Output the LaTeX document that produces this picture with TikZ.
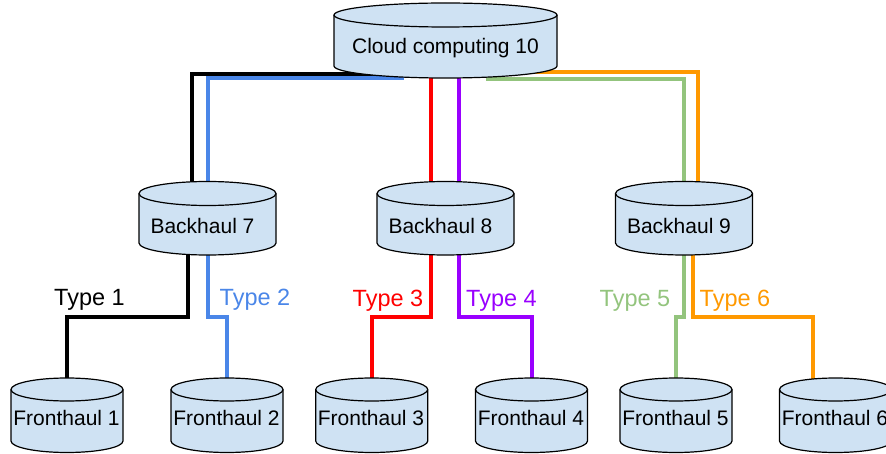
\documentclass[tikz,border=0pt]{standalone}
\usepackage{fontspec}
\setmainfont{Liberation Sans}
\usetikzlibrary{calc}

\pgfdeclarelayer{wires}
\pgfsetlayers{wires,main}

\definecolor{drumblue}{HTML}{CFE2F3}
\definecolor{linkblue}{HTML}{4A86E8}
\definecolor{linkred}{HTML}{FF0000}
\definecolor{linkpurple}{HTML}{9900FF}
\definecolor{linkgreen}{HTML}{93C47D}
\definecolor{linkorange}{HTML}{FF9900}

\tikzset{
  drumbox/.style={rectangle, draw=none, inner sep=0pt, outer sep=0pt},
  drumbody/.style={fill=drumblue, draw=black, line width=1.2pt},
  drumtext/.style={anchor=base, inner sep=0pt, font=\fontsize{21}{25}\selectfont},
  tag/.style={anchor=base west, inner sep=0pt, font=\fontsize{23.5}{28}\selectfont},
  wire/.style={line width=4pt, line join=miter, line cap=butt},
}

% \drum{name}{centre x}{top y}{width}{height}{cap radius}
\newcommand\drum[6]{%
  \node[drumbox, minimum width=#4pt, minimum height=#5pt] (#1) at ({#2},{#3+#5/2}) {};
  \filldraw[drumbody] ([yshift=-#6pt]#1.north west) -- ([yshift=#6pt]#1.south west)
    arc[start angle=180, end angle=360, x radius=#4pt/2, y radius=#6pt]
    -- ([yshift=-#6pt]#1.north east)
    arc[start angle=0, end angle=180, x radius=#4pt/2, y radius=#6pt] -- cycle;
  \draw[drumbody, fill=none] ([yshift=-#6pt]#1.north west)
    arc[start angle=180, end angle=360, x radius=#4pt/2, y radius=#6pt];
}

\begin{document}
\begin{tikzpicture}[x=1pt, y=-1pt]
\useasboundingbox (0,0) rectangle (886,454);

% storage tiers
\drum{cloud}{445.5}{3}{223}{75}{12}
\drum{b7}{207.5}{181.5}{137}{73.5}{12}
\drum{b8}{445.5}{181.5}{137}{73.5}{12}
\drum{b9}{684}{181.5}{137}{73.5}{12}
\drum{f1}{67}{378}{112}{74.5}{11.5}
\drum{f2}{227}{378}{112}{74.5}{11.5}
\drum{f3}{371.7}{378}{112}{74.5}{11.5}
\drum{f4}{531.5}{378}{112}{74.5}{11.5}
\drum{f5}{676}{378}{112}{74.5}{11.5}
\drum{f6}{835.5}{378}{112}{74.5}{11.5}

\node[drumtext] (cloud-text) at (445.5,54) {Cloud computing 10};
\node[drumtext] (b7-text) at (202.5,233.3) {Backhaul 7};
\node[drumtext] (b8-text) at (440.5,233.3) {Backhaul 8};
\node[drumtext] (b9-text) at (679,233.3) {Backhaul 9};
\node[drumtext] (f1-text) at (66.5,425) {Fronthaul 1};
\node[drumtext] (f2-text) at (226.5,425) {Fronthaul 2};
\node[drumtext] (f3-text) at (371,425) {Fronthaul 3};
\node[drumtext] (f4-text) at (531,425) {Fronthaul 4};
\node[drumtext] (f5-text) at (675.5,425) {Fronthaul 5};
\node[drumtext] (f6-text) at (835,425) {Fronthaul 6};

% link type labels
\node[tag, text=black] (type1) at (54,305.5) {Type 1};
\node[tag, text=linkblue] (type2) at (219.5,305.5) {Type 2};
\node[tag, text=linkred] (type3) at (352.5,306) {Type 3};
\node[tag, text=linkpurple] (type4) at (466,306) {Type 4};
\node[tag, text=linkgreen] (type5) at (599.5,306) {Type 5};
\node[tag, text=linkorange] (type6) at (699.5,306) {Type 6};

\coordinate (tier) at (0,317);

\begin{pgfonlayer}{wires}
  % cloud to backhaul
  \draw[wire, black] ($(cloud.south)+(-64.5,-4)$) -| ($(b7.center)+(-15.5,0)$);
  \draw[wire, linkblue] ($(cloud.south)+(-41.5,0)$) -| (b7.center);
  \draw[wire, linkred] ($(cloud.center)+(-15,0)$) -- ($(b8.center)+(-15,0)$);
  \draw[wire, linkpurple] ($(cloud.center)+(13.5,0)$) -- ($(b8.center)+(13.5,0)$);
  \draw[wire, linkgreen] ($(cloud.south)+(40.5,1)$) -| (b9.center);
  \draw[wire, linkorange] ($(cloud.south)+(83.5,-6)$) -| ($(b9.center)+(13.5,0)$);
  % backhaul to fronthaul
  \draw[wire, black] ($(b7.center)+(-19.5,0)$) |- (f1.center |- tier) -- (f1.center);
  \draw[wire, linkblue] ($(b7.center)+(0.5,0)$) |- (f2.center |- tier) -- (f2.center);
  \draw[wire, linkred] ($(b8.center)+(-15,0)$) |- (f3.center |- tier) -- (f3.center);
  \draw[wire, linkpurple] ($(b8.center)+(13.5,0)$) |- (f4.center |- tier) -- (f4.center);
  \draw[wire, linkgreen] ($(b9.center)+(-0.5,0)$) |- (f5.center |- tier) -- (f5.center);
  \draw[wire, linkorange] ($(b9.center)+(9,0)$) |- ($(f6.center |- tier)+(-22.5,0)$) -- ($(f6.center)+(-22.5,0)$);
\end{pgfonlayer}
\end{tikzpicture}
\end{document}
